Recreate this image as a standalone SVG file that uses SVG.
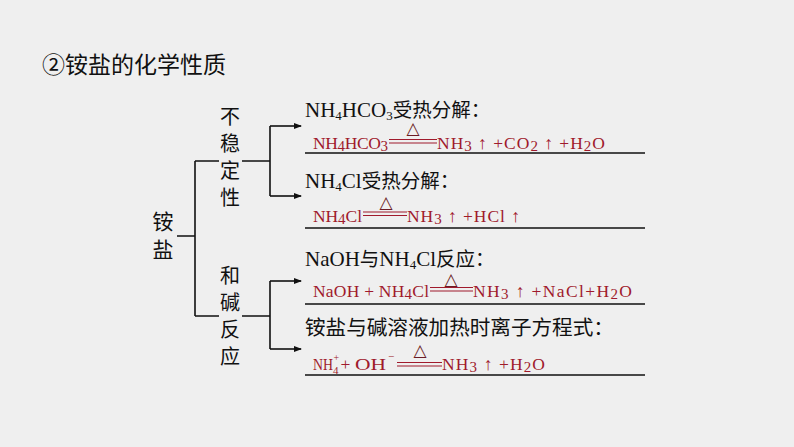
<svg xmlns="http://www.w3.org/2000/svg" width="794" height="447" viewBox="0 0 794 447">
<defs>
<style>
.t{font-family:"Liberation Serif","Noto Sans CJK SC",serif;font-size:21px;fill:#111}
.cj{font-family:"Noto Sans CJK SC",sans-serif;font-size:20px;fill:#111}
.r{font-family:"Liberation Serif","DejaVu Serif",serif;font-size:17.5px;fill:#a01a2c}
.tri{font-family:"DejaVu Sans",sans-serif;font-size:17px;fill:#6b1b24}
.ln{stroke:#111;stroke-width:1.6;fill:none}
.ul{stroke:#111;stroke-width:1.3}
.eq{stroke:#a01a2c;stroke-width:1.1}
</style>
<marker id="ah" markerWidth="8" markerHeight="6" refX="7" refY="3" orient="auto" markerUnits="userSpaceOnUse">
<path d="M0,0 L8,3 L0,6 Z" fill="#111"/>
</marker>
</defs>
<rect width="794" height="447" fill="#efefef"/>
<text id="title" x="42" y="73" font-family="Noto Sans CJK SC,sans-serif" font-size="23" fill="#111">②铵盐的化学性质</text>

<g id="root" class="cj" text-anchor="middle" style="font-size:21px"><text x="163" y="229">铵</text><text x="163" y="257">盐</text></g>
<g id="unstable" class="cj" text-anchor="middle">
<text x="230" y="124">不</text><text x="230" y="151">稳</text><text x="230" y="178">定</text><text x="230" y="205">性</text>
</g>
<g id="alkali" class="cj" text-anchor="middle">
<text x="230" y="283">和</text><text x="230" y="310">碱</text><text x="230" y="337">反</text><text x="230" y="364">应</text>
</g>

<g id="connectors">
<path class="ln" d="M177,236 H195 M195,161 V316 M195,161 H219 M242,161 H270 M195,316 H219 M242,316 H270"/>
<path class="ln" d="M270,126 V196 M270,281 V349"/>
<path class="ln" d="M270,126 H301" marker-end="url(#ah)"/>
<path class="ln" d="M270,196 H301" marker-end="url(#ah)"/>
<path class="ln" d="M270,281 H301" marker-end="url(#ah)"/>
<path class="ln" d="M270,349 H301" marker-end="url(#ah)"/>
</g>

<g id="item1">
<text class="t" x="305" y="117">NH<tspan font-size="13" dy="3">4</tspan><tspan dy="-3">HCO</tspan><tspan font-size="13" dy="3">3</tspan><tspan dy="-3" font-size="19.5">受热分解：</tspan></text>
<text class="r" x="313" y="149" textLength="75" lengthAdjust="spacing">NH<tspan font-size="15" dy="1.5">4</tspan><tspan dy="-1.5">HCO</tspan><tspan font-size="15" dy="1.5">3</tspan></text>
<line class="eq" x1="389" y1="139.5" x2="437" y2="139.5"/><line class="eq" x1="389" y1="143" x2="437" y2="143"/>
<text class="tri" x="413" y="134" text-anchor="middle">△</text>
<text class="r" x="437" y="149" textLength="168" lengthAdjust="spacing">NH<tspan font-size="15" dy="1.5">3</tspan><tspan dy="-1.5"> ↑ +CO</tspan><tspan font-size="15" dy="1.5">2</tspan><tspan dy="-1.5"> ↑ +H</tspan><tspan font-size="15" dy="1.5">2</tspan><tspan dy="-1.5">O</tspan></text>
<line class="ul" x1="305" y1="153" x2="645" y2="153"/>
</g>

<g id="item2">
<text class="t" x="305" y="188">NH<tspan font-size="13" dy="3">4</tspan><tspan dy="-3">Cl</tspan><tspan font-size="19.5">受热分解：</tspan></text>
<text class="r" x="313" y="222" textLength="49" lengthAdjust="spacing">NH<tspan font-size="15" dy="1.5">4</tspan><tspan dy="-1.5">Cl</tspan></text>
<line class="eq" x1="363" y1="212" x2="407" y2="212"/><line class="eq" x1="363" y1="215.5" x2="407" y2="215.5"/>
<text class="tri" x="386" y="208" text-anchor="middle">△</text>
<text class="r" x="407" y="222" textLength="113" lengthAdjust="spacing">NH<tspan font-size="15" dy="1.5">3</tspan><tspan dy="-1.5"> ↑ +HCl ↑</tspan></text>
<line class="ul" x1="305" y1="228" x2="645" y2="228"/>
</g>

<g id="item3">
<text class="t" x="305" y="266">NaOH<tspan font-size="19.5">与</tspan>NH<tspan font-size="13" dy="3">4</tspan><tspan dy="-3">Cl</tspan><tspan font-size="19.5">反应：</tspan></text>
<text class="r" x="313" y="297" textLength="116" lengthAdjust="spacing">NaOH + NH<tspan font-size="15" dy="1.5">4</tspan><tspan dy="-1.5">Cl</tspan></text>
<line class="eq" x1="430" y1="287.5" x2="473" y2="287.5"/><line class="eq" x1="430" y1="291" x2="473" y2="291"/>
<text class="tri" x="451" y="285" text-anchor="middle">△</text>
<text class="r" x="473" y="297" textLength="159" lengthAdjust="spacing">NH<tspan font-size="15" dy="1.5">3</tspan><tspan dy="-1.5"> ↑ +NaCl+H</tspan><tspan font-size="15" dy="1.5">2</tspan><tspan dy="-1.5">O</tspan></text>
<line class="ul" x1="305" y1="304" x2="645" y2="304"/>
</g>

<g id="item4">
<text class="cj" x="305" y="335" style="font-size:20.6px">铵盐与碱溶液加热时离子方程式：</text>
<text class="r" x="313" y="370" textLength="20" lengthAdjust="spacingAndGlyphs">NH</text>
<text class="r" x="333" y="374" style="font-size:11px">4</text>
<text class="r" x="333.5" y="361" style="font-size:10px">+</text>
<text class="r" x="340.5" y="370">+</text>
<text class="r" x="355" y="370" textLength="31" lengthAdjust="spacingAndGlyphs">OH</text>
<text class="r" x="388" y="360" style="font-size:11px">−</text>
<line class="eq" x1="397" y1="362.5" x2="442" y2="362.5"/><line class="eq" x1="397" y1="366" x2="442" y2="366"/>
<text class="tri" x="420" y="356" text-anchor="middle">△</text>
<text class="r" x="442" y="370" textLength="103" lengthAdjust="spacing">NH<tspan font-size="15" dy="1.5">3</tspan><tspan dy="-1.5"> ↑ +H</tspan><tspan font-size="15" dy="1.5">2</tspan><tspan dy="-1.5">O</tspan></text>
<line class="ul" x1="305" y1="375" x2="645" y2="375"/>
</g>
</svg>
